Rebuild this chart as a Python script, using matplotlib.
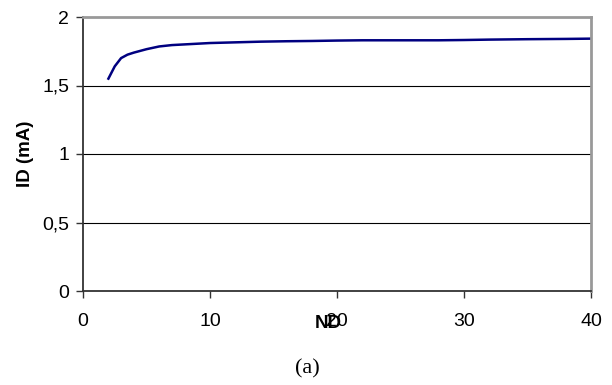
import matplotlib
matplotlib.use("Agg")
import matplotlib.pyplot as plt
import numpy as np

# N values and drain current ID (mA)
n = np.array([2, 2.5, 3, 3.5, 4, 5, 6, 7, 8, 10, 12, 14, 16, 18, 20, 22, 25, 28, 30, 32, 35, 38, 40])
id_ma = np.array([1.55, 1.64, 1.70, 1.725, 1.74, 1.765, 1.785, 1.795, 1.80, 1.81, 1.815, 1.82, 1.823,
                  1.825, 1.828, 1.83, 1.83, 1.83, 1.832, 1.835, 1.838, 1.84, 1.842])

xticks = [0, 10, 20, 30, 40]
yticks = [0, 0.5, 1, 1.5, 2]
yticklabels = ["0", "0,5", "1", "1,5", "2"]

plt.rcParams['font.family'] = ['Liberation Sans', 'DejaVu Sans']

fig = plt.figure(figsize=(6.12, 3.85), dpi=100)
ax = fig.add_axes([83 / 612, 94 / 385, 508 / 612, 274 / 385])

ax.plot(n, id_ma, color='#000080', lw=1.8)

ax.set_xlim(0, 40)
ax.set_ylim(0, 2)
ax.set_xticks(xticks)
ax.set_yticks(yticks)
ax.set_yticklabels(yticklabels)
ax.tick_params(axis='both', labelsize=14, length=5, width=1, color='#333333')
ax.tick_params(axis='x', pad=11)
ax.tick_params(axis='y', pad=5)

for v in [0.5, 1, 1.5]:
    ax.axhline(v, color='black', lw=0.8)

ax.spines['top'].set_color('#999999')
ax.spines['right'].set_color('#999999')
ax.spines['top'].set_linewidth(2)
ax.spines['right'].set_linewidth(2)
ax.spines['left'].set_color('#333333')
ax.spines['bottom'].set_color('#333333')
ax.spines['left'].set_linewidth(1.3)
ax.spines['bottom'].set_linewidth(1.3)

ax.set_ylabel('ID (mA)', fontsize=13.5, fontweight='bold', labelpad=6)
fig.text(328 / 612, 1 - 323 / 385, 'ND', fontsize=13.5, fontweight='bold', ha='center', va='center')
fig.text(307 / 612, 1 - 369 / 385, '(a)', fontsize=16, family='Liberation Serif', ha='center', va='center')

fig.savefig('out.png', dpi=100)
